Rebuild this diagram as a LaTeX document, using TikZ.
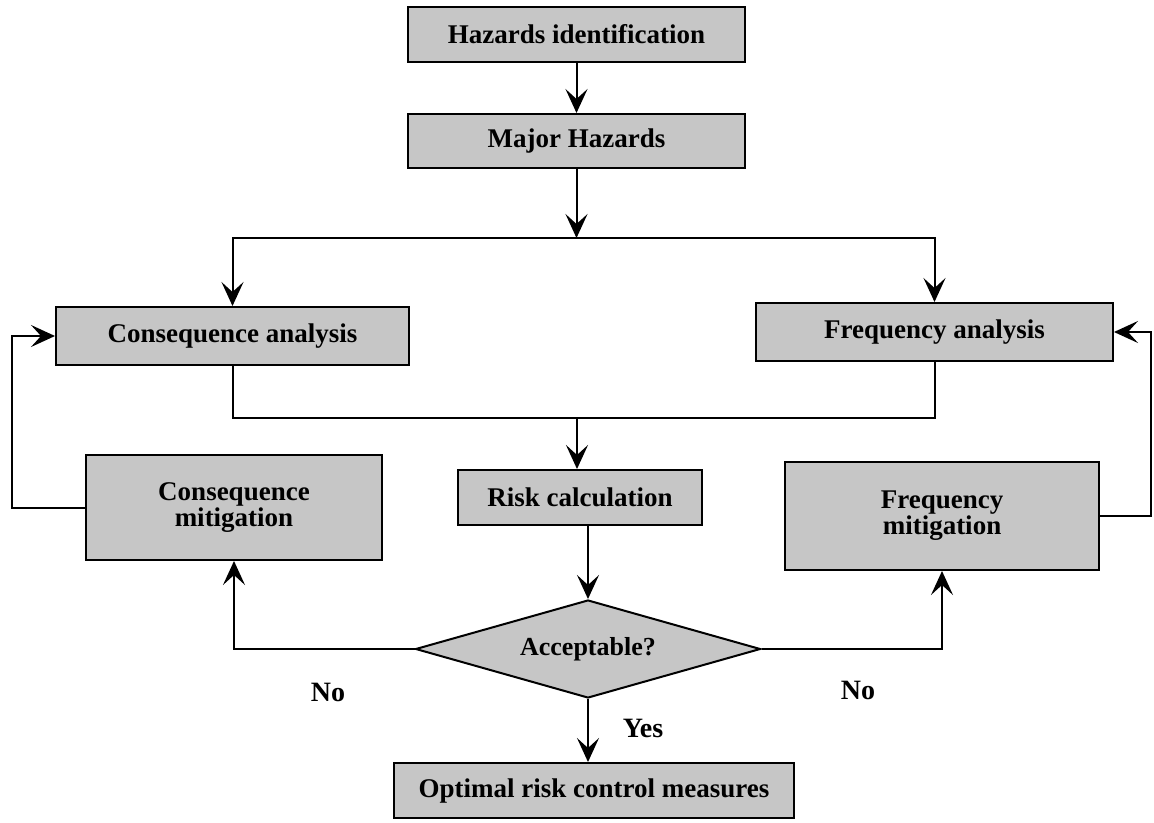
\documentclass[tikz,border=0pt]{standalone}
\usepackage{fontspec}
\setmainfont{Liberation Serif}
\usetikzlibrary{arrows.meta,shapes.geometric}
\definecolor{boxgray}{RGB}{198,198,198}
\tikzset{
  box/.style={draw=black, line width=2pt, fill=boxgray, inner sep=0pt,
    font=\bfseries\fontsize{27}{26}\selectfont, align=center},
  decision/.style={diamond, draw=black, line width=2pt, fill=boxgray, inner sep=0pt,
    aspect=3.5, font=\bfseries\fontsize{26}{26}\selectfont},
  conn/.style={line width=2pt, draw=black},
  arr/.style={conn, -{Stealth[length=24pt,width=22pt,inset=10pt]}},
  lbl/.style={font=\bfseries\fontsize{28}{28}\selectfont, inner sep=0pt}
}
\begin{document}
\begin{tikzpicture}[x=1pt,y=-1pt]
\useasboundingbox (0,0) rectangle (1154,822);
% nodes
\node[box, minimum width=337pt, minimum height=55pt] (hz) at (576.5,34.5) {Hazards identification};
\node[box, minimum width=337pt, minimum height=54pt] (mh) at (576.5,141) {Major Hazards};
\node[box, minimum width=353pt, minimum height=58pt] (ca) at (232.5,336) {Consequence analysis};
\node[box, minimum width=357pt, minimum height=58pt] (fa) at (934.5,332) {Frequency analysis};
\node[box, minimum width=244pt, minimum height=55pt] (rc) at (580,497.5) {Risk calculation};
\node[box, minimum width=296pt, minimum height=105pt] (cm) at (234,507.5) {Consequence\\mitigation};
\node[box, minimum width=314pt, minimum height=108pt] (fm) at (942,516) {Frequency\\mitigation};
\node[decision, minimum width=345pt, minimum height=98pt] (acc) at (588,649) {Acceptable?};
\node[box, minimum width=400pt, minimum height=55pt] (opt) at (594,790.5) {Optimal risk control measures};
% labels
\node[lbl] (no1) at (328,692) {No};
\node[lbl] (no2) at (858,690) {No};
\node[lbl] (yes) at (643,728) {Yes};
% junction coordinates
\coordinate (j1) at (576.5,238);
\coordinate (j2) at (577,418);
\coordinate (lf) at (12,0);
\coordinate (rf) at (1151,0);
% connectors
\draw[arr] (hz.south) -- (mh.north);
\draw[arr] (mh.south) -- (j1);
\draw[arr] (j1) -| (ca.north);
\draw[arr] (j1) -| (fa.north);
\draw[conn] (ca.south) |- (j2) -| (fa.south);
\draw[arr] (j2) -- (j2 |- rc.north);
\draw[arr] (acc.north |- rc.south) -- (acc.north);
\draw[arr] (acc.south) -- (acc.south |- opt.north);
\draw[arr] (acc.west) -| (cm.south);
\draw[arr] (acc.east) -| (fm.south);
\draw[arr] (cm.west) -- (cm.west -| lf) |- (ca.west);
\draw[arr] (fm.east) -- (fm.east -| rf) |- (fa.east);
\end{tikzpicture}
\end{document}
